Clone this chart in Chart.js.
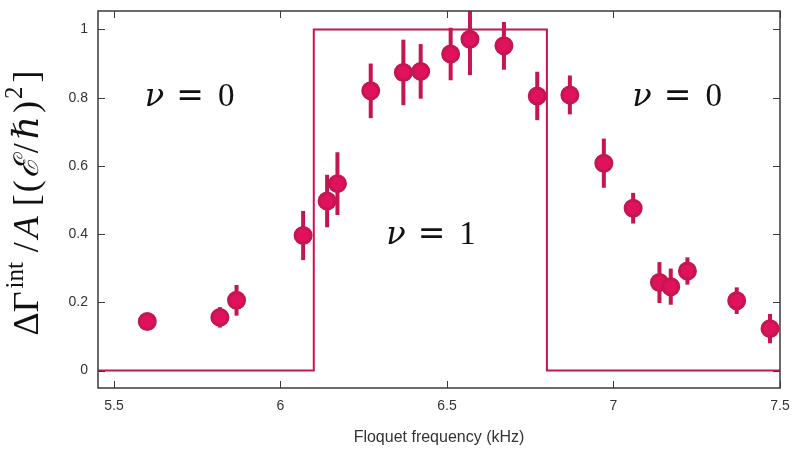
<!DOCTYPE html>
<html>
<head>
<meta charset="utf-8">
<script src="https://cdn.jsdelivr.net/npm/chart.js@4.4.1/dist/chart.umd.min.js"></script>
<style>
  html, body { margin: 0; padding: 0; background: #fff; }
  #wrap { width: 792px; height: 450px; }
</style>
</head>
<body>
<div id="wrap"><canvas id="rate-chart" width="792" height="450"></canvas></div>
<script>
// Measured integrated excitation rate vs. Floquet drive frequency
const freqKHz = [5.600, 5.818, 5.868, 6.068, 6.140, 6.171, 6.271, 6.369, 6.421, 6.511, 6.569,
                 6.671, 6.771, 6.869, 6.971, 7.059, 7.138, 7.172, 7.222, 7.370, 7.470];
const rate    = [0.144, 0.156, 0.206, 0.396, 0.497, 0.548, 0.820, 0.874, 0.877, 0.928, 0.971,
                 0.952, 0.805, 0.808, 0.608, 0.476, 0.258, 0.246, 0.292, 0.205, 0.123];
const rateErr = [0.010, 0.030, 0.045, 0.072, 0.077, 0.092, 0.080, 0.096, 0.080, 0.077, 0.105,
                 0.070, 0.071, 0.057, 0.072, 0.045, 0.060, 0.053, 0.040, 0.039, 0.043];

// Predicted winding number: phase boundaries and the value on each side
const phaseEdges = [5.452, 6.1, 6.8, 7.5];
const windingNu  = [0, 1, 0];

// Axis ticks
const xTicks = [5.5, 6, 6.5, 7, 7.5];
const yTicks = [0, 0.2, 0.4, 0.6, 0.8, 1];

// Phase labels, anchored in data units
const phaseText = ['0', '1', '0'];
const phaseAtX  = [5.727, 6.452, 7.191];
const phaseAtY  = [0.809, 0.403, 0.809];

const X_MIN = 5.452, X_MAX = 7.5, Y_MIN = -0.051, Y_MAX = 1.054;

const EDGE = '#c41650';
const FILL = '#e0125e';
const AXIS = '#3a3a3a';
const SERIF = '"Liberation Serif", "DejaVu Serif", serif';

// step curve: horizontal first, then vertical at each edge
const stepPoints = [{ x: phaseEdges[0], y: windingNu[0] }];
for (let i = 1; i < phaseEdges.length; i++) {
  stepPoints.push({ x: phaseEdges[i], y: i < windingNu.length ? windingNu[i] : windingNu[windingNu.length - 1] });
}

const points = freqKHz.map((f, i) => ({ x: f, y: rate[i] }));

// vertical error bars, drawn just before the markers
const errorBars = {
  id: 'errorBars',
  beforeDatasetDraw(chart, args) {
    if (args.index !== 1) return;
    const { ctx, chartArea: a, scales: { x, y } } = chart;
    ctx.save();
    ctx.beginPath();
    ctx.rect(a.left, a.top, a.right - a.left, a.bottom - a.top);
    ctx.clip();
    ctx.strokeStyle = EDGE;
    ctx.lineWidth = 4;
    freqKHz.forEach((f, i) => {
      const px = x.getPixelForValue(f);
      ctx.beginPath();
      ctx.moveTo(px, y.getPixelForValue(rate[i] - rateErr[i]));
      ctx.lineTo(px, y.getPixelForValue(rate[i] + rateErr[i]));
      ctx.stroke();
    });
    ctx.restore();
  }
};

// box frame with inward ticks on all four sides
const frame = {
  id: 'frame',
  afterDraw(chart) {
    const { ctx, chartArea: a, scales: { x, y } } = chart;
    const len = 7;
    ctx.save();
    ctx.strokeStyle = AXIS;
    ctx.lineWidth = 1.5;
    ctx.strokeRect(a.left, a.top, a.right - a.left, a.bottom - a.top);
    ctx.lineWidth = 1;
    ctx.beginPath();
    xTicks.forEach(v => {
      const px = Math.round(x.getPixelForValue(v)) + 0.5;
      ctx.moveTo(px, a.bottom); ctx.lineTo(px, a.bottom - len);
      ctx.moveTo(px, a.top);    ctx.lineTo(px, a.top + len);
    });
    yTicks.forEach(v => {
      const py = Math.round(y.getPixelForValue(v)) + 0.5;
      ctx.moveTo(a.left, py);  ctx.lineTo(a.left + len, py);
      ctx.moveTo(a.right, py); ctx.lineTo(a.right - len, py);
    });
    ctx.stroke();
    ctx.restore();
  }
};

// draw a run of text pieces left to right starting at x0 on the baseline
function drawRun(ctx, pieces, x0) {
  let cx = x0;
  pieces.forEach(p => {
    ctx.font = p.font;
    ctx.fillText(p.t, cx, -(p.up || 0));
    cx += ctx.measureText(p.t).width + (p.gap || 0);
  });
}
function runWidth(ctx, pieces) {
  let w = 0;
  pieces.forEach(p => { ctx.font = p.font; w += ctx.measureText(p.t).width + (p.gap || 0); });
  return w;
}

// math-style labels: phase names inside the plot and the rotated y title
const mathText = {
  id: 'mathText',
  afterDatasetsDraw(chart) {
    const { ctx, scales: { x, y } } = chart;
    ctx.save();
    ctx.fillStyle = '#111';
    ctx.textBaseline = 'alphabetic';
    ctx.textAlign = 'left';
    phaseText.forEach((t, i) => {
      const pieces = [
        { t: 'ν', font: 'italic 32px "DejaVu Serif", serif', gap: 12 },
        { t: '=', font: '33px "DejaVu Serif", serif', gap: 14 },
        { t: t, font: '33px ' + SERIF }
      ];
      const w = runWidth(ctx, pieces);
      ctx.save();
      ctx.translate(x.getPixelForValue(phaseAtX[i]), y.getPixelForValue(phaseAtY[i]) + 11);
      drawRun(ctx, pieces, -w / 2);
      ctx.restore();
    });

    const big = '36px ' + SERIF, bigI = 'italic 36px ' + SERIF, small = '25px ' + SERIF;
    const script = 'italic 34px "DejaVu Serif", serif';
    const title = [
      { t: 'ΔΓ', font: big, gap: 3 },
      { t: 'int', font: small, up: 15, gap: 10 },
      { t: '/', font: big, gap: 4 },
      { t: 'A', font: bigI, gap: 10 },
      { t: '[', font: big, gap: 2 },
      { t: '(', font: big, gap: 2 },
      { t: 'ℰ', font: script, gap: 4 },
      { t: '/', font: big, gap: 4 },
      { t: 'ℏ', font: bigI, gap: 3 },
      { t: ')', font: big, gap: 2 },
      { t: '2', font: small, up: 16, gap: 4 },
      { t: ']', font: big }
    ];
    const tw = runWidth(ctx, title);
    ctx.translate(38, 203);
    ctx.rotate(-Math.PI / 2);
    drawRun(ctx, title, -tw / 2);
    ctx.restore();
  }
};

const noEdgePadding = s => {
  s.paddingLeft = 0; s.paddingRight = 0; s.paddingTop = 0; s.paddingBottom = 0;
};

new Chart(document.getElementById('rate-chart'), {
  data: {
    datasets: [
      {
        type: 'line',
        data: stepPoints,
        stepped: 'before',
        borderColor: EDGE,
        borderWidth: 2,
        pointRadius: 0,
        fill: false,
        order: 2
      },
      {
        type: 'scatter',
        data: points,
        backgroundColor: FILL,
        borderColor: EDGE,
        borderWidth: 3,
        pointRadius: 8,
        pointHoverRadius: 8,
        order: 1
      }
    ]
  },
  options: {
    responsive: false,
    animation: false,
    devicePixelRatio: 1,
    layout: { padding: { top: 7, right: 12, left: 0, bottom: 0 } },
    plugins: { legend: { display: false }, tooltip: { enabled: false } },
    scales: {
      x: {
        type: 'linear',
        min: X_MIN,
        max: X_MAX,
        afterBuildTicks: s => { s.ticks = xTicks.map(v => ({ value: v })); },
        afterFit: s => { s.height = 62; noEdgePadding(s); },
        grid: { display: false, drawTicks: false },
        border: { display: false },
        ticks: {
          padding: 10,
          color: '#333',
          font: { family: '"Liberation Sans", Arial, sans-serif', size: 14 },
          callback: v => String(v)
        },
        title: {
          display: true,
          text: 'Floquet frequency (kHz)',
          color: '#333',
          font: { family: '"Liberation Sans", Arial, sans-serif', size: 16 },
          padding: { top: 0, bottom: 3 }
        }
      },
      y: {
        type: 'linear',
        min: Y_MIN,
        max: Y_MAX,
        afterBuildTicks: s => { s.ticks = yTicks.map(v => ({ value: v })); },
        afterFit: s => { s.width = 98; noEdgePadding(s); },
        grid: { display: false, drawTicks: false },
        border: { display: false },
        ticks: {
          padding: 10,
          color: '#333',
          font: { family: '"Liberation Sans", Arial, sans-serif', size: 14 },
          callback: v => String(v)
        }
      }
    }
  },
  plugins: [errorBars, frame, mathText]
});
</script>
</body>
</html>
